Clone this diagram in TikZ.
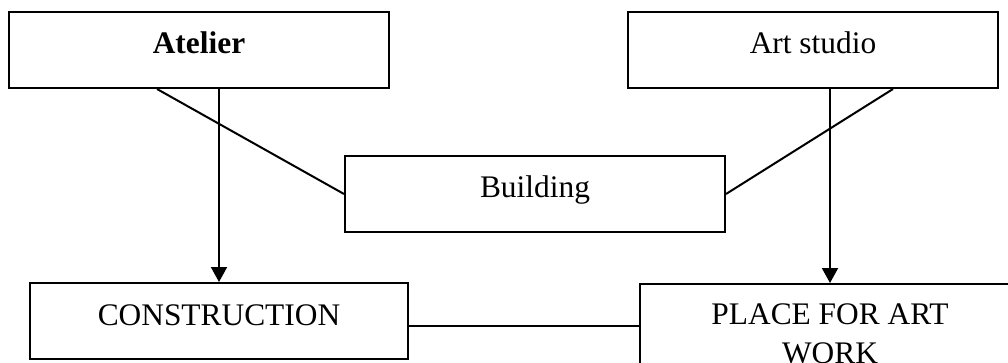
\documentclass[tikz,border=0pt]{standalone}
\usepackage{fontspec}
\setmainfont{Liberation Serif}
\usetikzlibrary{arrows.meta}
\begin{document}
\begin{tikzpicture}[x=1pt,y=-1pt,
  box/.style={draw,line width=2pt,rectangle,inner sep=0pt,minimum height=76pt,
    text height=42pt,text depth=34pt,font=\fontsize{31.4}{39}\selectfont},
  conn/.style={line width=2pt},
  arr/.style={line width=2pt,-{Triangle[length=15pt,width=16pt]}}]
\clip (0,0) rectangle (1008,363);
\fill[white] (0,0) rectangle (1008,363);
\node[box,minimum width=380pt] (atelier) at (199,50) {\bfseries Atelier};
\node[box,minimum width=370pt] (studio) at (813,50) {Art studio};
\node[box,minimum width=380pt] (building) at (535,194) {Building};
\node[box,minimum width=378pt] (constr) at (219,321) {CONSTRUCTION};
\node[box,minimum width=380pt,minimum height=120pt,text height=79pt,text depth=41pt,
  align=center,anchor=north] (place) at (830,283) {PLACE FOR ART\\WORK};
\draw[arr] (atelier.south -| constr.north) -- (constr.north);
\draw[arr] (studio.south -| place.north) -- (place.north);
\draw[conn] ([xshift=-42pt]atelier.south) -- (building.west);
\draw[conn] ([xshift=80pt]studio.south) -- (building.east);
\draw[conn] ([yshift=-5pt]constr.east) -- ([yshift=-5pt]constr.east -| place.west);
\end{tikzpicture}
\end{document}
